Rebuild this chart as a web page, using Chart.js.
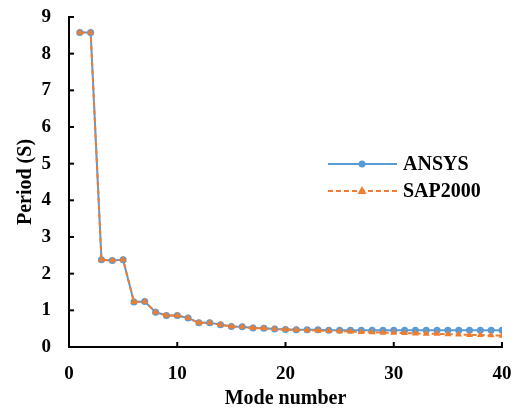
<!DOCTYPE html>
<html>
<head>
<meta charset="utf-8">
<script src="https://cdn.jsdelivr.net/npm/chart.js@4.4.1/dist/chart.umd.min.js"></script>
<style>
body{margin:0;background:#fff}
</style>
</head>
<body>
<canvas id="c" width="520" height="419"></canvas>
<script>

// mode numbers and periods (s)
const modes=[1,2,3,4,5,6,7,8,9,10,11,12,13,14,15,16,17,18,19,20,21,22,23,24,25,26,27,28,29,30,31,32,33,34,35,36,37,38,39,40]
const ansys=[8.58,8.58,2.38,2.36,2.38,1.23,1.24,0.95,0.86,0.86,0.79,0.66,0.66,0.61,0.56,0.55,0.52,0.51,0.49,0.48,0.47,0.47,0.47,0.46,0.46,0.46,0.46,0.46,0.46,0.46,0.46,0.46,0.46,0.46,0.46,0.46,0.46,0.46,0.46,0.46]
const sap2000=[8.58,8.58,2.38,2.36,2.38,1.23,1.24,0.95,0.86,0.86,0.79,0.66,0.66,0.61,0.56,0.55,0.52,0.51,0.49,0.48,0.47,0.46,0.45,0.44,0.43,0.42,0.41,0.40,0.39,0.39,0.38,0.37,0.36,0.36,0.35,0.34,0.33,0.33,0.32,0.31]
const xTicks=[0,10,20,30,40]
const yTicks=[0,1,2,3,4,5,6,7,8,9]

const blue="#5B9BD5"
const orange="#ED7D31"
const fam="'Liberation Serif','Times New Roman',serif"
const tickFont={family:fam,size:19,weight:"bold"}
const titleFont={family:fam,size:20,weight:"bold"}

// ticks pointing into the plot + legend inside the plot
const extras={
id:"extras",
afterDraw(chart){
let ctx=chart.ctx
let xs=chart.scales.x, ys=chart.scales.y
ctx.save()
ctx.strokeStyle="#000"
ctx.lineWidth=2
xTicks.forEach(v=>{
if(v==0) return
let px=xs.getPixelForValue(v)
ctx.beginPath();ctx.moveTo(px,ys.bottom);ctx.lineTo(px,ys.bottom-5);ctx.stroke()
})
yTicks.forEach(v=>{
if(v==0) return
let py=ys.getPixelForValue(v)
ctx.beginPath();ctx.moveTo(xs.left,py);ctx.lineTo(xs.left+5,py);ctx.stroke()
})

let items=[
{label:"ANSYS",color:blue,dash:[],marker:"circle",y:164},
{label:"SAP2000",color:orange,dash:[5,3],marker:"triangle",y:191}
]
items.forEach(it=>{
ctx.strokeStyle=it.color
ctx.lineWidth=2
ctx.setLineDash(it.dash)
ctx.beginPath();ctx.moveTo(328,it.y);ctx.lineTo(397,it.y);ctx.stroke()
ctx.setLineDash([])
ctx.fillStyle=it.color
ctx.beginPath()
if(it.marker=="circle"){ctx.arc(362,it.y,3.5,0,Math.PI*2)}
else{ctx.moveTo(362,it.y-5);ctx.lineTo(366.5,it.y+3);ctx.lineTo(357.5,it.y+3);ctx.closePath()}
ctx.fill()
ctx.fillStyle="#000"
ctx.font="bold 20px "+fam
ctx.textBaseline="middle"
ctx.fillText(it.label,403,it.y+1)
})
ctx.restore()
}
}

new Chart(document.getElementById("c"),{

type:"line",

data:{
datasets:[
{
label:"SAP2000",
data:modes.map((m,i)=>({x:m,y:sap2000[i]})),
borderColor:orange,
backgroundColor:orange,
borderWidth:2,
borderDash:[5,3],
pointStyle:"triangle",
pointRadius:4,
pointBorderWidth:0,
tension:0,
order:0
},
{
label:"ANSYS",
data:modes.map((m,i)=>({x:m,y:ansys[i]})),
borderColor:blue,
backgroundColor:blue,
borderWidth:2,
pointStyle:"circle",
pointRadius:3.5,
pointBorderWidth:0,
tension:0,
order:1
}
]
},

options:{
responsive:false,
animation:false,
layout:{padding:{left:0,right:18,top:17,bottom:0}},
plugins:{legend:{display:false},tooltip:{enabled:false}},
scales:{
x:{
type:"linear",
min:0,max:40,
afterBuildTicks:s=>{s.ticks=xTicks.map(v=>({value:v}))},
afterFit:s=>{s.height=72;s.paddingLeft=0;s.paddingRight=0},
grid:{display:false,drawTicks:false},
border:{color:"#000",width:2},
ticks:{color:"#000",font:tickFont,padding:16,maxRotation:0},
title:{display:true,text:"Mode number",color:"#000",font:titleFont,padding:{top:0,bottom:8}}
},
y:{
min:0,max:9,
afterBuildTicks:s=>{s.ticks=yTicks.map(v=>({value:v}))},
afterFit:s=>{s.width=69;s.paddingTop=0;s.paddingBottom=0},
grid:{display:false,drawTicks:false},
border:{color:"#000",width:2},
ticks:{color:"#000",font:tickFont,padding:18},
title:{display:true,text:"Period (S)",color:"#000",font:titleFont,padding:{top:14,bottom:0}}
}
}
},

plugins:[extras]

})

</script>
</body>
</html>
